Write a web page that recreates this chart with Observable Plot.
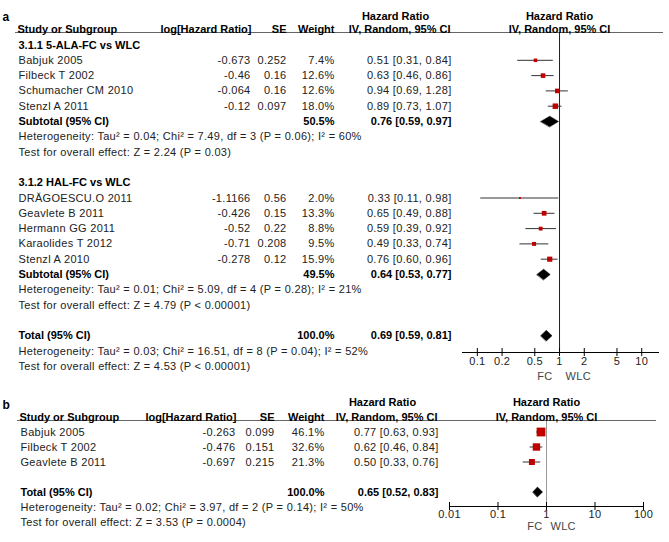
<!DOCTYPE html>
<html><head><meta charset="utf-8">
<script src="https://cdn.jsdelivr.net/npm/d3@7"></script>
<script src="https://cdn.jsdelivr.net/npm/@observablehq/plot@0.6"></script>
<style>
body{margin:0;background:#fff;}
#chart{width:669px;}
#chart svg{display:block;}
#chart g[aria-label="text"]:not([font-weight="bold"]) text{letter-spacing:0.3px;}
</style></head><body><div id="chart"></div>
<script>
// ---------- Panel a, subgroup 3.1.1 ----------
const a1Title = "3.1.1 5-ALA-FC vs WLC";
const a1Study = ["Babjuk 2005", "Filbeck T 2002", "Schumacher CM 2010", "Stenzl A 2011"];
const a1LogHR = [-0.673, -0.46, -0.064, -0.12];
const a1SE = [0.252, 0.16, 0.16, 0.097];
const a1Weight = [7.4, 12.6, 12.6, 18.0];
const a1HR = [0.51, 0.63, 0.94, 0.89];
const a1Lo = [0.31, 0.46, 0.69, 0.73];
const a1Hi = [0.84, 0.86, 1.28, 1.07];
const a1Subtotal = [50.5, 0.76, 0.59, 0.97]; // weight, HR, lower, upper
const a1Het = "Heterogeneity: Tau\u00b2 = 0.04; Chi\u00b2 = 7.49, df = 3 (P = 0.06); I\u00b2 = 60%";
const a1Test = "Test for overall effect: Z = 2.24 (P = 0.03)";

// ---------- Panel a, subgroup 3.1.2 ----------
const a2Title = "3.1.2 HAL-FC vs WLC";
const a2Study = ["DR\u0102GOESCU.O 2011", "Geavlete B 2011", "Hermann GG 2011", "Karaolides T 2012", "Stenzl A 2010"];
const a2LogHR = [-1.1166, -0.426, -0.52, -0.71, -0.278];
const a2SE = [0.56, 0.15, 0.22, 0.208, 0.12];
const a2Weight = [2.0, 13.3, 8.8, 9.5, 15.9];
const a2HR = [0.33, 0.65, 0.59, 0.49, 0.76];
const a2Lo = [0.11, 0.49, 0.39, 0.33, 0.60];
const a2Hi = [0.98, 0.88, 0.92, 0.74, 0.96];
const a2Subtotal = [49.5, 0.64, 0.53, 0.77];
const a2Het = "Heterogeneity: Tau\u00b2 = 0.01; Chi\u00b2 = 5.09, df = 4 (P = 0.28); I\u00b2 = 21%";
const a2Test = "Test for overall effect: Z = 4.79 (P < 0.00001)";

// ---------- Panel a, total ----------
const aTotal = [100.0, 0.69, 0.59, 0.81];
const aTotalHet = "Heterogeneity: Tau\u00b2 = 0.03; Chi\u00b2 = 16.51, df = 8 (P = 0.04); I\u00b2 = 52%";
const aTotalTest = "Test for overall effect: Z = 4.53 (P < 0.00001)";
const aTicks = [0.1, 0.2, 0.5, 1, 2, 5, 10];

// ---------- Panel b ----------
const bStudy = ["Babjuk 2005", "Filbeck T 2002", "Geavlete B 2011"];
const bLogHR = [-0.263, -0.476, -0.697];
const bSE = [0.099, 0.151, 0.215];
const bWeight = [46.1, 32.6, 21.3];
const bHR = [0.77, 0.62, 0.50];
const bLo = [0.63, 0.46, 0.33];
const bHi = [0.93, 0.84, 0.76];
const bTotal = [100.0, 0.65, 0.52, 0.83];
const bTotalHet = "Heterogeneity: Tau\u00b2 = 0.02; Chi\u00b2 = 3.97, df = 2 (P = 0.14); I\u00b2 = 50%";
const bTotalTest = "Test for overall effect: Z = 3.53 (P = 0.0004)";
const bTicks = [0.01, 0.1, 1, 10, 100];

// ---------- text labels ----------
const hdrStudy = "Study or Subgroup";
const hdrLog = "log[Hazard Ratio]";
const hdrSE = "SE";
const hdrWeight = "Weight";
const hdrHR = "Hazard Ratio";
const hdrIV = "IV, Random, 95% CI";
const favLeft = "FC";
const favRight = "WLC";

// ---------- helpers ----------
const W = 669;
const FONT = "'Liberation Sans', Arial, Helvetica, sans-serif";
const RED = "#c00000";
const fmtCI = (h, l, u) => `${h.toFixed(2)} [${l.toFixed(2)}, ${u.toFixed(2)}]`;
const fmtW = w => w.toFixed(1) + "%";

function studyRows(names, lg, se, w, hr, lo, hi, start) {
  return names.map((n, i) => ({row: start + i, name: n, logHR: String(lg[i]), se: String(se[i]),
    w: w[i], weight: fmtW(w[i]), hr: hr[i], lo: lo[i], hi: hi[i], ci: fmtCI(hr[i], lo[i], hi[i])}));
}
function pooledRow(label, v, row) {
  return {row, name: label, w: v[0], weight: fmtW(v[0]), hr: v[1], lo: v[2], hi: v[3], ci: fmtCI(v[1], v[2], v[3])};
}

function makePanel(cfg, L) {
  const {studies, pooled, titles, notes, ticks} = cfg;
  const diamonds = pooled.flatMap((p, k) => [
    {id: k, x: p.lo, y: p.row}, {id: k, x: p.hr, y: p.row - L.dh},
    {id: k, x: p.hi, y: p.row}, {id: k, x: p.hr, y: p.row + L.dh}]);
  const txt = (data, o) => Plot.text(data, {frameAnchor: "left", fill: "#222", fontSize: 11, ...o});
  const bold = (data, o) => txt(data, {fill: "#000", fontWeight: "bold", ...o});
  const hdr = (s, o) => Plot.text([s], {text: d => d, frameAnchor: "top-left", fill: "#000", fontWeight: "bold", fontSize: 11, ...o});
  const nRows = L.nRows;
  const frameH = L.axisY - L.top;
  return Plot.plot({
    width: W, height: L.height,
    marginTop: L.top, marginBottom: L.height - L.axisY, marginLeft: 0, marginRight: 0,
    style: {fontFamily: FONT, fontSize: "11px", color: "#222", background: "#fff"},
    x: {type: "log", domain: L.xDomain, range: L.xRange, axis: null},
    y: {domain: [0, nRows], range: [L.row0, L.row0 + nRows * L.rowH], axis: null},
    r: {type: "sqrt", domain: [0, 100], range: [0, 7.3]},
    marks: [
      Plot.frame({anchor: "top", insetLeft: L.lineL, insetRight: W - L.lineR, stroke: "#666"}),
      Plot.ruleX([1], {stroke: L.refStroke}),
      // x axis: line, ticks crossing it, labels
      Plot.frame({anchor: "bottom", insetLeft: L.xRange[0], insetRight: W - L.xRange[1], stroke: "#000"}),
      Plot.tickX(ticks, {x: d => d, insetTop: frameH - 4, insetBottom: -4, stroke: "#000"}),
      Plot.text(ticks, {x: d => d, text: d => String(d), frameAnchor: "bottom", dy: L.tickDy, fill: "#222", fontSize: 11}),
      Plot.text([favLeft], {x: [1], text: d => d, frameAnchor: "bottom", dy: L.favDy, dx: L.favL, textAnchor: "end", fill: "#444", fontSize: 11}),
      Plot.text([favRight], {x: [1], text: d => d, frameAnchor: "bottom", dy: L.favDy, dx: L.favR, textAnchor: "start", fill: "#444", fontSize: 11}),
      // headers
      hdr(cfg.label, {dx: 2, dy: L.labelDy, textAnchor: "start", fontSize: 12}),
      hdr(hdrHR, {dx: L.hrHdrX, dy: L.h1, textAnchor: "middle"}),
      Plot.text([hdrHR], {x: [1], text: d => d, frameAnchor: "top", dy: L.h1, fill: "#000", fontWeight: "bold", fontSize: 11}),
      hdr(hdrStudy, {dx: L.nameX - 1, dy: L.h2, textAnchor: "start"}),
      hdr(hdrLog, {dx: L.logX + 1, dy: L.h2, textAnchor: "end"}),
      hdr(hdrSE, {dx: L.seX, dy: L.h2, textAnchor: "end"}),
      hdr(hdrWeight, {dx: L.wX, dy: L.h2, textAnchor: "end"}),
      hdr(hdrIV, {dx: L.ciX - 1, dy: L.h2, textAnchor: "end"}),
      Plot.text([hdrIV], {x: [1], text: d => d, frameAnchor: "top", dy: L.h2, fill: "#000", fontWeight: "bold", fontSize: 11}),
      // table body
      bold(titles, {y: "row", text: "text", dx: L.nameX, textAnchor: "start"}),
      txt(studies, {y: "row", text: "name", dx: L.nameX, textAnchor: "start"}),
      txt(studies, {y: "row", text: "logHR", dx: L.logX, textAnchor: "end"}),
      txt(studies, {y: "row", text: "se", dx: L.seX, textAnchor: "end"}),
      txt(studies, {y: "row", text: "weight", dx: L.wX, textAnchor: "end"}),
      txt(studies, {y: "row", text: "ci", dx: L.ciX, textAnchor: "end"}),
      bold(pooled, {y: "row", text: "name", dx: L.nameX, textAnchor: "start"}),
      bold(pooled, {y: "row", text: "weight", dx: L.wX, textAnchor: "end"}),
      bold(pooled, {y: "row", text: "ci", dx: L.ciX, textAnchor: "end"}),
      txt(notes, {y: "row", text: "text", dx: L.nameX, textAnchor: "start"}),
      // forest
      Plot.ruleY(studies, {y: "row", x1: "lo", x2: "hi", stroke: "#333", strokeWidth: 1}),
      Plot.dot(studies, {x: "hr", y: "row", r: "w", symbol: "square", fill: RED}),
      Plot.line(diamonds, {x: "x", y: "y", z: "id", fill: "#000", stroke: "#000", strokeWidth: 0.5, curve: "linear-closed"})
    ]
  });
}

// ---------- panel a ----------
const aStudies = [...studyRows(a1Study, a1LogHR, a1SE, a1Weight, a1HR, a1Lo, a1Hi, 1),
                  ...studyRows(a2Study, a2LogHR, a2SE, a2Weight, a2HR, a2Lo, a2Hi, 10)];
const aPooled = [pooledRow("Subtotal (95% CI)", a1Subtotal, 5), pooledRow("Subtotal (95% CI)", a2Subtotal, 15),
                 pooledRow("Total (95% CI)", aTotal, 19)];
const aTitles = [{row: 0, text: a1Title}, {row: 9, text: a2Title}];
const aNotes = [{row: 6, text: a1Het}, {row: 7, text: a1Test}, {row: 16, text: a2Het}, {row: 17, text: a2Test},
                {row: 20, text: aTotalHet}, {row: 21, text: aTotalTest}];

const panelA = makePanel({studies: aStudies, pooled: aPooled, titles: aTitles, notes: aNotes, ticks: aTicks, label: "a"}, {
  height: 385, top: 32, axisY: 352, nRows: 21, row0: 44.5, rowH: 15.3, dh: 0.35,
  xDomain: [0.066, 16], xRange: [462, 658], lineL: 15, lineR: 662, refStroke: "#222",
  tickDy: 12.5, favDy: 27, favL: -7, favR: 6,
  labelDy: -20, h1: -20.5, h2: -7, hrHdrX: 395,
  nameX: 18, logX: 250, seX: 286, wX: 334, ciX: 451
});

// ---------- panel b ----------
const bStudies = studyRows(bStudy, bLogHR, bSE, bWeight, bHR, bLo, bHi, 0);
const bPooled = [pooledRow("Total (95% CI)", bTotal, 4)];
const bNotes = [{row: 5, text: bTotalHet}, {row: 6, text: bTotalTest}];

const panelB = makePanel({studies: bStudies, pooled: bPooled, titles: [], notes: bNotes, ticks: bTicks, label: "b"}, {
  height: 157, top: 35, axisY: 121, nRows: 6, row0: 46.5, rowH: 15, dh: 0.33,
  xDomain: [0.01, 100], xRange: [449, 643], lineL: 17, lineR: 655, refStroke: "#999",
  tickDy: 11, favDy: 23, favL: -4, favR: 4,
  labelDy: -20, h1: -22, h2: -7, hrHdrX: 382,
  nameX: 20, logX: 235, seX: 274, wX: 324, ciX: 438
});

const root = document.getElementById("chart");
root.append(panelA, panelB);
</script>
</body></html>
